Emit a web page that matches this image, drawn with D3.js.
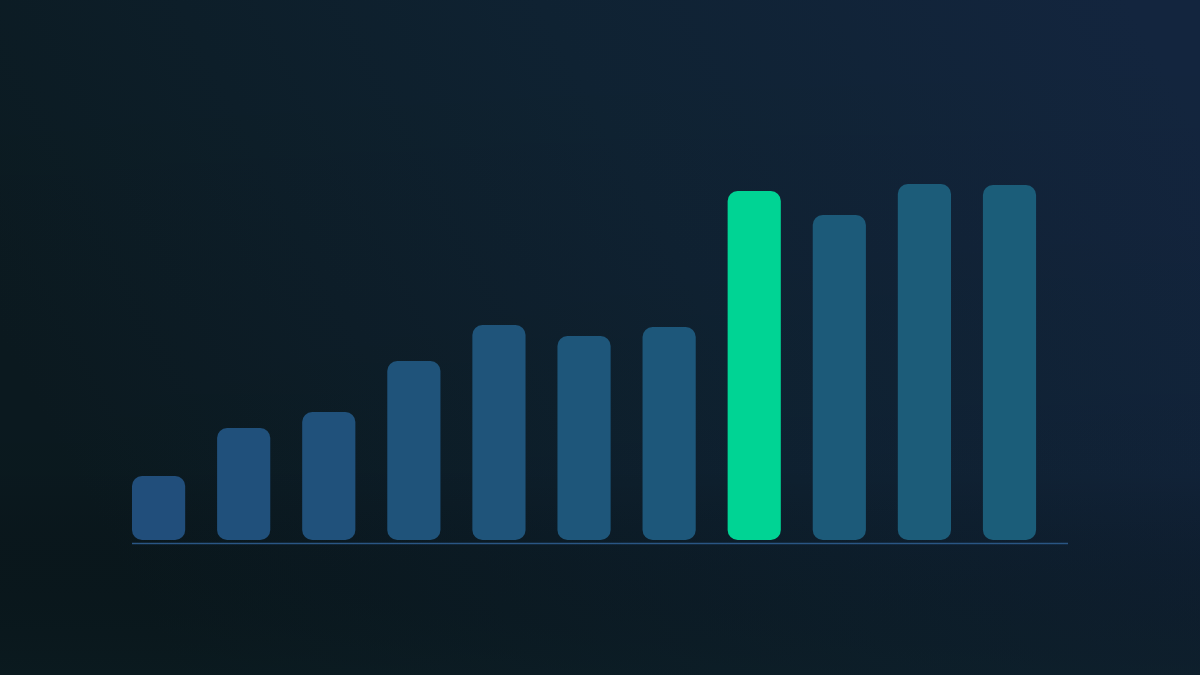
<!DOCTYPE html>
<html>
<head>
<meta charset="utf-8">
<script src="https://cdn.jsdelivr.net/npm/d3@7"></script>
<style>
  html, body { margin: 0; padding: 0; background: #0c1a22; }
  #chart { width: 1200px; height: 675px; }
</style>
</head>
<body>
<div id="chart"></div>
<script>
// bar categories and values
const categories = ["1", "2", "3", "4", "5", "6", "7", "8", "9", "10", "11"];
const values = [64, 112, 128, 179, 215, 204, 213, 349, 325, 356, 355];
const highlight = "8";

function renderBars(containerId) {
  const container = d3.select(`#${containerId}`);
  container.selectAll("*").remove();

  const width = 1200;
  const height = 675;

  const svg = container.append("svg")
    .attr("width", width)
    .attr("height", height);

  const defs = svg.append("defs");

  // background: dark teal on the left, navy toward the upper right
  const bg = defs.append("linearGradient")
    .attr("id", "bg-grad")
    .attr("x1", "0%").attr("y1", "50%")
    .attr("x2", "100%").attr("y2", "20%");
  bg.append("stop").attr("offset", "0%").attr("stop-color", "#0b1a20");
  bg.append("stop").attr("offset", "55%").attr("stop-color", "#0f2232");
  bg.append("stop").attr("offset", "100%").attr("stop-color", "#13253e");

  const shade = defs.append("linearGradient")
    .attr("id", "bg-shade")
    .attr("x1", "0%").attr("y1", "0%")
    .attr("x2", "0%").attr("y2", "100%");
  shade.append("stop").attr("offset", "0%").attr("stop-color", "#000").attr("stop-opacity", 0);
  shade.append("stop").attr("offset", "70%").attr("stop-color", "#000").attr("stop-opacity", 0.05);
  shade.append("stop").attr("offset", "100%").attr("stop-color", "#0a1a1e").attr("stop-opacity", 0.45);

  svg.append("rect").attr("width", width).attr("height", height).attr("fill", "url(#bg-grad)");
  svg.append("rect").attr("width", width).attr("height", height).attr("fill", "url(#bg-shade)");

  const x = d3.scaleBand()
    .domain(categories)
    .range([132, 1068])
    .paddingInner(0.375)
    .paddingOuter(0.1875)
    .align(0);

  const y = d3.scaleLinear()
    .domain([0, 400])
    .range([540, 140]);

  const barColor = d3.scaleLinear()
    .domain([0, categories.length - 1])
    .range(["#214e7b", "#1b5d79"])
    .interpolate(d3.interpolateRgb);

  const data = categories.map((c, i) => ({ cat: c, value: values[i], i }));

  svg.append("g")
    .selectAll("rect")
    .data(data)
    .join("rect")
    .attr("x", d => x(d.cat))
    .attr("y", d => y(d.value))
    .attr("width", x.bandwidth())
    .attr("height", d => y(0) - y(d.value))
    .attr("rx", 10)
    .attr("ry", 10)
    .attr("fill", d => d.cat === highlight ? "#00d494" : barColor(d.i));

  // baseline
  svg.append("line")
    .attr("x1", x.range()[0])
    .attr("x2", x.range()[1])
    .attr("y1", y(0) + 3.5)
    .attr("y2", y(0) + 3.5)
    .attr("stroke", "#2a5684")
    .attr("stroke-width", 1.5);
}

renderBars("chart");
</script>
</body>
</html>
